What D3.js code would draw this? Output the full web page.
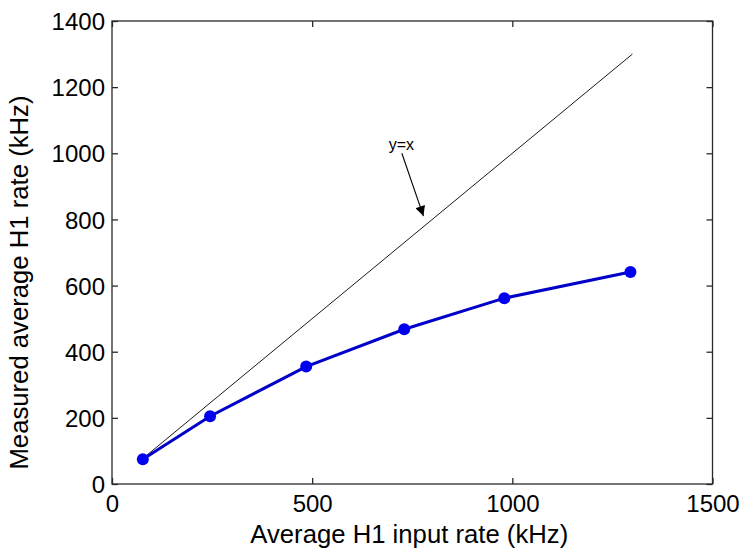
<!DOCTYPE html>
<html>
<head>
<meta charset="utf-8">
<script src="https://cdn.jsdelivr.net/npm/d3@7"></script>
<style>
  html, body { margin: 0; padding: 0; background: #fff; }
  svg { display: block; }
  text { font-family: "Liberation Sans", Arial, sans-serif; fill: #000; }
</style>
</head>
<body>
<svg id="chart" width="745" height="549"></svg>
<script>
// ---- data ----
const inputRate = [77, 245, 485, 730, 980, 1295];      // kHz (x)
const measuredRate = [75, 205, 355, 468, 562, 641];    // kHz (y)
const identityLine = [75, 1300];                        // y = x reference
const xTicks = [0, 500, 1000, 1500];
const yTicks = [0, 200, 400, 600, 800, 1000, 1200, 1400];
const xTitle = "Average H1 input rate (kHz)";
const yTitle = "Measured average H1 rate (kHz)";
const annotationText = "y=x";

// ---- layout ----
const svg = d3.select("#chart");
const W = 745, H = 549;
const margin = { left: 112, right: W - 712.5, top: 21, bottom: H - 484 };
const x = d3.scaleLinear().domain([0, 1500]).range([margin.left, W - margin.right]);
const y = d3.scaleLinear().domain([0, 1400]).range([H - margin.bottom, margin.top]);

const tickLen = 6;
const tickFont = 24;
const titleFont = 25.7;
const boxColor = "#2a2a2a";
const fmt = d3.format("d");

// box
svg.append("rect")
  .attr("x", x(0)).attr("y", y(1400))
  .attr("width", x(1500) - x(0)).attr("height", y(0) - y(1400))
  .attr("fill", "none").attr("stroke", boxColor).attr("stroke-width", 1.3);

// axes (inward ticks)
const xAxisB = d3.axisBottom(x).tickValues(xTicks).tickSizeInner(-tickLen).tickSizeOuter(0).tickFormat(fmt);
const xAxisT = d3.axisTop(x).tickValues(xTicks).tickSizeInner(-tickLen).tickSizeOuter(0).tickFormat("");
const yAxisL = d3.axisLeft(y).tickValues(yTicks).tickSizeInner(-tickLen).tickSizeOuter(0).tickFormat(fmt);
const yAxisR = d3.axisRight(y).tickValues(yTicks).tickSizeInner(-tickLen).tickSizeOuter(0).tickFormat("");

function styleAxis(g) {
  g.select(".domain").remove();
  g.selectAll(".tick line").attr("stroke", boxColor).attr("stroke-width", 1.3);
  g.selectAll(".tick text")
    .attr("font-size", tickFont)
    .attr("font-family", "Liberation Sans, Arial, sans-serif")
    .attr("fill", "#000")
    .attr("dy", 0);
}
svg.append("g").attr("transform", `translate(0,${y(0)})`).call(xAxisB).call(styleAxis)
  .selectAll(".tick text").attr("text-anchor", "middle").attr("x", 0).attr("y", 28);
svg.append("g").attr("transform", `translate(0,${y(1400)})`).call(xAxisT).call(styleAxis);
svg.append("g").attr("transform", `translate(${x(0)},0)`).call(yAxisL).call(styleAxis)
  .selectAll(".tick text").attr("text-anchor", "end").attr("x", -7).attr("y", 0.358 * tickFont);
svg.append("g").attr("transform", `translate(${x(1500)},0)`).call(yAxisR).call(styleAxis);

// y = x line
svg.append("line")
  .attr("x1", x(identityLine[0])).attr("y1", y(identityLine[0]))
  .attr("x2", x(identityLine[1])).attr("y2", y(identityLine[1]))
  .attr("stroke", "#000").attr("stroke-width", 0.9);

// data line
const pts = inputRate.map((d, i) => [d, measuredRate[i]]);
svg.append("path")
  .datum(pts)
  .attr("d", d3.line().x(d => x(d[0])).y(d => y(d[1])))
  .attr("fill", "none").attr("stroke", "#0000c8").attr("stroke-width", 3);
svg.selectAll("circle.pt").data(pts).enter().append("circle")
  .attr("class", "pt")
  .attr("cx", d => x(d[0])).attr("cy", d => y(d[1])).attr("r", 6)
  .attr("fill", "#0000f0");

// annotation arrow
const defs = svg.append("defs");
defs.append("marker").attr("id", "arrowhead")
  .attr("viewBox", "0 0 10 10").attr("refX", 10).attr("refY", 5)
  .attr("markerWidth", 16).attr("markerHeight", 10).attr("markerUnits", "userSpaceOnUse")
  .attr("orient", "auto")
  .append("path").attr("d", "M0,0 L10,5 L0,10 z").attr("fill", "#000");
svg.append("line")
  .attr("x1", x(724)).attr("y1", y(1000))
  .attr("x2", x(778)).attr("y2", y(810))
  .attr("stroke", "#000").attr("stroke-width", 1.1)
  .attr("marker-end", "url(#arrowhead)");
svg.append("text")
  .attr("x", x(723)).attr("y", y(1010))
  .attr("text-anchor", "middle").attr("font-size", 16).attr("fill", "#222")
  .text(annotationText);

// titles
svg.append("text")
  .attr("x", (x(0) + x(1500)) / 2 - 3).attr("y", 543)
  .attr("text-anchor", "middle").attr("font-size", titleFont)
  .text(xTitle);
svg.append("text")
  .attr("transform", `translate(28,${(y(0) + y(1400)) / 2 + 30}) rotate(-90)`)
  .attr("text-anchor", "middle").attr("font-size", titleFont)
  .text(yTitle);
</script>
</body>
</html>
